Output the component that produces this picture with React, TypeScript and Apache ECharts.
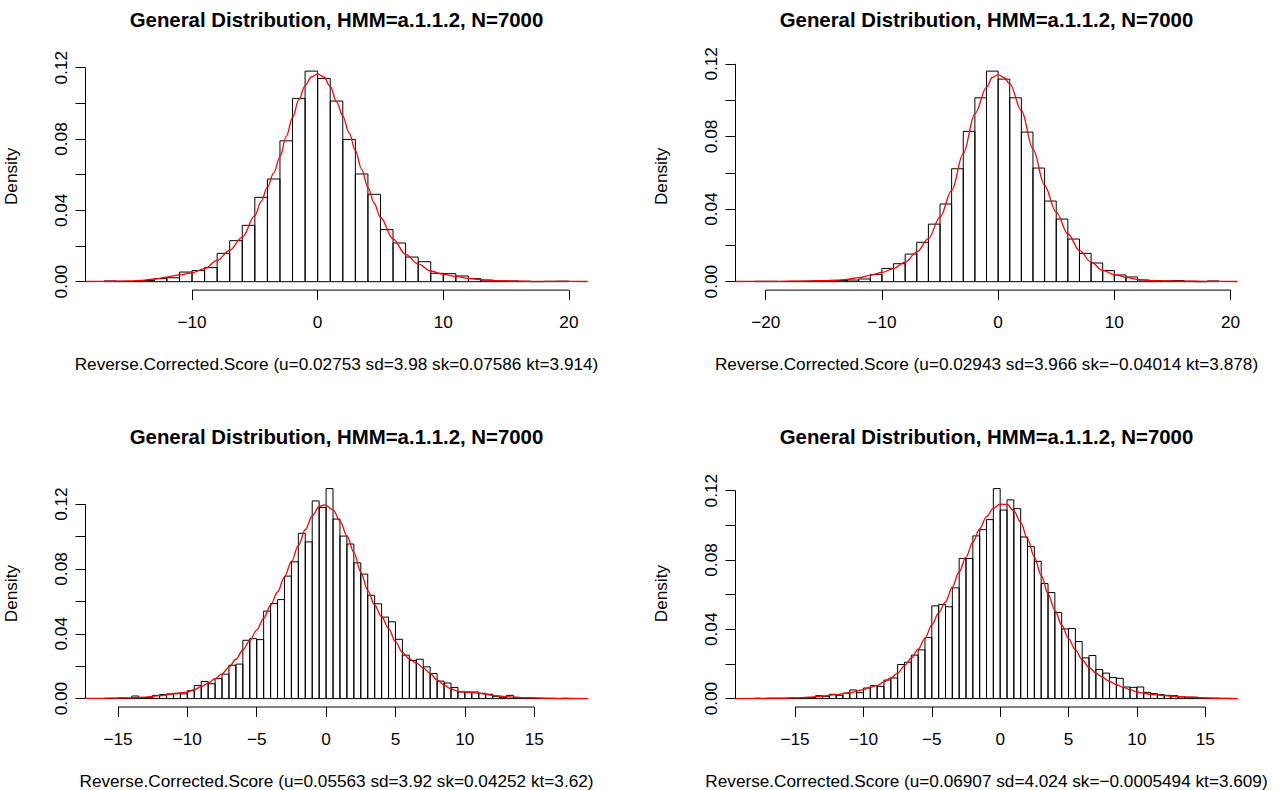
import React, { useEffect, useRef } from "react";
import * as echarts from "echarts";

// ---------- text ----------
const MAIN_TITLE = "General Distribution, HMM=a.1.1.2, N=7000";
const Y_TITLE = "Density";
const xTitles = [
  "Reverse.Corrected.Score (u=0.02753 sd=3.98 sk=0.07586 kt=3.914)",
  "Reverse.Corrected.Score (u=0.02943 sd=3.966 sk=\u22120.04014 kt=3.878)",
  "Reverse.Corrected.Score (u=0.05563 sd=3.92 sk=0.04252 kt=3.62)",
  "Reverse.Corrected.Score (u=0.06907 sd=4.024 sk=\u22120.0005494 kt=3.609)",
];

// ---------- panel 1 (top-left) ----------
const p1BinStart = -17;
const p1BinWidth = 1;
const p1Density = [
  0.0004, 0.0002, 0.0001, 0.0006, 0.0017, 0.0022, 0.0054, 0.0062, 0.0079, 0.0159,
  0.023, 0.0316, 0.0473, 0.0576, 0.079, 0.1028, 0.1181, 0.114, 0.1013, 0.0798,
  0.0604, 0.049, 0.0292, 0.0217, 0.0138, 0.0112, 0.0047, 0.0045, 0.0032, 0.0017,
  0.0009, 0.0004, 0.0004, 0.0002, 0.0, 0.0002, 0.0003,
];
const p1CurveX = [-18.5, -17, -16, -15, -14, -13, -12, -11, -10, -9, -8, -7, -6, -5, -4.5, -4, -3.5, -3, -2.5, -2, -1.5, -1, -0.5, 0, 0.5, 1, 1.5, 2, 2.5, 3, 3.5, 4, 4.5, 5, 6, 7, 8, 9, 10, 11, 12, 13, 14, 15, 16, 17, 18, 19, 20, 21.5];
const p1CurveY = [0.0001, 0.0002, 0.0003, 0.0004, 0.0007, 0.0015, 0.0026, 0.0038, 0.005, 0.0073, 0.012, 0.0176, 0.025, 0.037, 0.045, 0.053, 0.061, 0.07, 0.0815, 0.092, 0.102, 0.11, 0.1148, 0.1166, 0.1148, 0.1095, 0.101, 0.093, 0.0835, 0.0736, 0.063, 0.053, 0.044, 0.036, 0.024, 0.0153, 0.01, 0.006, 0.0041, 0.003, 0.0019, 0.0011, 0.0006, 0.0004, 0.0003, 0.0002, 0.0002, 0.0002, 0.0002, 0.0001];
const p1XTicks = [-10, 0, 10, 20];

// ---------- panel 2 (top-right) ----------
const p2BinStart = -21;
const p2BinWidth = 1;
const p2Density = [
  0.0002, 0.0002, 0.0001, 0.0002, 0.0003, 0.0004, 0.0004, 0.0006, 0.0009, 0.0015,
  0.004, 0.0073, 0.0099, 0.0152, 0.0217, 0.0317, 0.0428, 0.0622, 0.0828, 0.1013,
  0.116, 0.1116, 0.1013, 0.0824, 0.0626, 0.0444, 0.0345, 0.0235, 0.0156, 0.0103,
  0.0061, 0.0037, 0.0026, 0.0009, 0.0006, 0.0004, 0.0006, 0.0002, 0.0, 0.0004,
];
const p2CurveX = [-22.6, -21, -19, -17, -16, -15, -14, -13, -12, -11, -10, -9, -8, -7, -6, -5, -4, -3, -2, -1, -0.5, 0, 0.5, 1, 2, 3, 4, 5, 6, 7, 8, 9, 10, 11, 12, 13, 14, 15, 16, 18, 20.6];
const p2CurveY = [0.0001, 0.0002, 0.0002, 0.0003, 0.0004, 0.0006, 0.0008, 0.0013, 0.0022, 0.0035, 0.0051, 0.0072, 0.0108, 0.0163, 0.0237, 0.0356, 0.0503, 0.0705, 0.0925, 0.107, 0.1125, 0.1141, 0.1125, 0.109, 0.0943, 0.0732, 0.053, 0.0383, 0.0264, 0.0172, 0.0108, 0.0062, 0.0039, 0.0024, 0.0013, 0.0007, 0.0004, 0.0004, 0.0003, 0.0002, 0.0001];
const p2XTicks = [-20, -10, 0, 10, 20];

// ---------- panel 3 (bottom-left) ----------
const p3BinStart = -16;
const p3BinWidth = 0.5;
const p3Density = [
  0.0002, 0.0002, 0.0004, 0.0002, 0.0016, 0.0006, 0.0008, 0.002, 0.0025, 0.0029,
  0.0033, 0.0029, 0.0049, 0.008, 0.0106, 0.0092, 0.0123, 0.0151, 0.0206, 0.0213,
  0.036, 0.037, 0.0364, 0.054, 0.0587, 0.0611, 0.0756, 0.0844, 0.102, 0.0967,
  0.122, 0.1179, 0.1296, 0.1108, 0.1003, 0.0954, 0.0838, 0.0768, 0.0638, 0.0585,
  0.0503, 0.0474, 0.0366, 0.0268, 0.0235, 0.0243, 0.0196, 0.0155, 0.0108, 0.0096,
  0.0069, 0.0041, 0.0041, 0.0041, 0.0033, 0.0027, 0.0014, 0.0008, 0.002, 0.0008,
  0.0004, 0.0004, 0.0002, 0.0002, 0.0002, 0.0, 0.0002,
];
const p3CurveX = [-17.4, -16, -15, -14, -13, -12, -11, -10, -9.5, -9, -8.5, -8, -7.5, -7, -6.5, -6, -5.5, -5, -4.5, -4, -3.5, -3, -2.5, -2, -1.5, -1, -0.5, -0.1, 0.5, 1, 1.5, 2, 2.5, 3, 3.5, 4, 4.5, 5, 5.5, 6, 6.5, 7, 7.5, 8, 8.5, 9, 9.5, 10, 10.5, 11, 11.5, 12, 12.5, 13, 13.5, 14, 15, 16, 17, 18.9];
const p3CurveY = [0.0001, 0.0002, 0.0003, 0.0005, 0.0009, 0.0018, 0.0029, 0.004, 0.0055, 0.0074, 0.0096, 0.0123, 0.0153, 0.0194, 0.0243, 0.03, 0.0358, 0.0423, 0.0495, 0.0576, 0.0658, 0.075, 0.0846, 0.0944, 0.1042, 0.1128, 0.1185, 0.1196, 0.1165, 0.1097, 0.1006, 0.0903, 0.0781, 0.0668, 0.0576, 0.0505, 0.0433, 0.0352, 0.0285, 0.0245, 0.022, 0.019, 0.0155, 0.0115, 0.0084, 0.006, 0.0046, 0.0041, 0.0037, 0.0033, 0.0027, 0.002, 0.0016, 0.0012, 0.0009, 0.0006, 0.0004, 0.0002, 0.0001, 0.0];
const p3XTicks = [-15, -10, -5, 0, 5, 10, 15];

// ---------- panel 4 (bottom-right) ----------
const p4BinStart = -18;
const p4BinWidth = 0.5;
const p4Density = [
  0.0002, 0.0, 0.0002, 0.0002, 0.0002, 0.0004, 0.0002, 0.0006, 0.0006, 0.0017,
  0.0013, 0.0025, 0.0019, 0.0031, 0.005, 0.0034, 0.0061, 0.0075, 0.0071, 0.0107,
  0.0119, 0.0197, 0.021, 0.0251, 0.0281, 0.0352, 0.0535, 0.0543, 0.053, 0.0639,
  0.0809, 0.0809, 0.0939, 0.0975, 0.1033, 0.1212, 0.1088, 0.1147, 0.1096, 0.0933,
  0.0878, 0.0792, 0.0664, 0.0612, 0.0497, 0.0402, 0.0404, 0.0329, 0.0235, 0.0249,
  0.0168, 0.0147, 0.0122, 0.0117, 0.0067, 0.0065, 0.0067, 0.0036, 0.0029, 0.0023,
  0.0019, 0.0017, 0.001, 0.0008, 0.0008, 0.0004, 0.0002, 0.0002,
];
const p4CurveX = [-19.4, -18, -17, -16, -15, -14, -13, -12, -11, -10, -9.5, -9, -8.5, -8, -7.5, -7, -6.5, -6, -5.5, -5, -4.5, -4, -3.5, -3, -2.5, -2, -1.5, -1, -0.5, 0, 0.5, 1, 1.5, 2, 2.5, 3, 3.5, 4, 4.5, 5, 5.5, 6, 6.5, 7, 7.5, 8, 8.5, 9, 9.5, 10, 10.5, 11, 11.5, 12, 12.5, 13, 14, 15, 16, 17.4];
const p4CurveY = [0.0, 0.0001, 0.0002, 0.0002, 0.0004, 0.0008, 0.0015, 0.0023, 0.0034, 0.0052, 0.0065, 0.0076, 0.0096, 0.0119, 0.0147, 0.0189, 0.0233, 0.0285, 0.0348, 0.0425, 0.0495, 0.0558, 0.0644, 0.0731, 0.0817, 0.0903, 0.0979, 0.105, 0.1098, 0.1122, 0.1121, 0.1084, 0.1017, 0.0922, 0.0817, 0.0711, 0.0606, 0.0511, 0.0425, 0.0348, 0.0281, 0.0224, 0.018, 0.0147, 0.0122, 0.0099, 0.008, 0.0065, 0.0052, 0.0038, 0.0031, 0.0025, 0.0021, 0.0017, 0.0015, 0.0011, 0.0008, 0.0004, 0.0002, 0.0];
const p4XTicks = [-15, -10, -5, 0, 5, 10, 15];

// ---------- shared y ticks ----------
const yTicks = [0, 0.02, 0.04, 0.06, 0.08, 0.1, 0.12];
const yLabels = [0, 0.04, 0.08, 0.12];

// ---------- layout ----------
const FONT = '"Liberation Sans", Arial, Helvetica, sans-serif';
const PLOT_W = 502;
const PLOT_H = 227.4;
const COL_LEFT = [85.5, 735.5];
const ROW_TOP = [62.7, 480.2];
const TITLE_Y = [19.5, 437];
const AXIS_FS = 17.2;
const TITLE_FS = 20.4;

const panels = [
  { start: p1BinStart, w: p1BinWidth, dens: p1Density, cx: p1CurveX, cy: p1CurveY, ticks: p1XTicks, col: 0, row: 0 },
  { start: p2BinStart, w: p2BinWidth, dens: p2Density, cx: p2CurveX, cy: p2CurveY, ticks: p2XTicks, col: 1, row: 0 },
  { start: p3BinStart, w: p3BinWidth, dens: p3Density, cx: p3CurveX, cy: p3CurveY, ticks: p3XTicks, col: 0, row: 1 },
  { start: p4BinStart, w: p4BinWidth, dens: p4Density, cx: p4CurveX, cy: p4CurveY, ticks: p4XTicks, col: 1, row: 1 },
];

const minus = (v: number) => String(v).replace("-", "\u2212");

function buildOption() {
  const grid: any[] = [];
  const xAxis: any[] = [];
  const yAxis: any[] = [];
  const series: any[] = [];
  const graphic: any[] = [];

  panels.forEach((p, i) => {
    const n = p.dens.length;
    const lo = p.start;
    const hi = p.start + n * p.w;
    const xpad = 0.04 * (hi - lo);
    const xmin = lo - xpad;
    const xmax = hi + xpad;
    const ytop = Math.max(...p.dens);
    const ymin = -0.04 * ytop;
    const ymax = 1.04 * ytop;
    const left = COL_LEFT[p.col];
    const top = ROW_TOP[p.row];

    grid.push({ left, top, width: PLOT_W, height: PLOT_H, containLabel: false });

    xAxis.push({
      gridIndex: i,
      type: "value",
      position: "bottom",
      min: xmin,
      max: xmax,
      axisLine: { show: false, onZero: false },
      splitLine: { show: false },
      axisTick: { show: true, customValues: p.ticks, length: 10, lineStyle: { color: "#000", width: 1 } },
      axisLabel: {
        customValues: p.ticks,
        formatter: (v: number) => minus(v),
        margin: 23,
        fontSize: AXIS_FS,
        color: "#000",
        fontFamily: FONT,
      },
      name: xTitles[i],
      nameLocation: "middle",
      nameGap: 65,
      nameTextStyle: { fontSize: AXIS_FS, color: "#000", fontFamily: FONT },
    });

    yAxis.push({
      gridIndex: i,
      type: "value",
      position: "left",
      min: ymin,
      max: ymax,
      axisLine: { show: false, onZero: false },
      splitLine: { show: false },
      axisTick: { show: true, customValues: yTicks, length: 10, lineStyle: { color: "#000", width: 1 } },
      axisLabel: {
        customValues: yLabels,
        formatter: (v: number) => v.toFixed(2),
        rotate: 90,
        margin: 16,
        fontSize: AXIS_FS,
        color: "#000",
        fontFamily: FONT,
      },
      name: Y_TITLE,
      nameLocation: "middle",
      nameRotate: 90,
      nameGap: 66,
      nameTextStyle: { fontSize: AXIS_FS, color: "#000", fontFamily: FONT },
    });

    // histogram bars
    series.push({
      type: "custom",
      xAxisIndex: i,
      yAxisIndex: i,
      silent: true,
      clip: false,
      data: p.dens.map((d, k) => [p.start + k * p.w, p.start + (k + 1) * p.w, d]),
      encode: { x: [0, 1], y: 2 },
      renderItem: (_params: any, api: any) => {
        const a = api.coord([api.value(0), 0]);
        const b = api.coord([api.value(1), api.value(2)]);
        return {
          type: "rect",
          shape: { x: a[0], y: b[1], width: b[0] - a[0], height: a[1] - b[1] },
          style: { fill: "none", stroke: "#000", lineWidth: 1 },
        };
      },
      z: 2,
    });

    // density curve
    series.push({
      type: "line",
      xAxisIndex: i,
      yAxisIndex: i,
      silent: true,
      data: p.cx.map((x, k) => [x, p.cy[k]]),
      smooth: 0.35,
      smoothMonotone: "x",
      showSymbol: false,
      symbol: "none",
      clip: true,
      lineStyle: { color: "#ff0000", width: 1.3 },
      z: 3,
    });

    // R-style axis lines: from first to last tick
    series.push({
      type: "line",
      xAxisIndex: i,
      yAxisIndex: i,
      silent: true,
      clip: false,
      symbol: "none",
      data: [
        [p.ticks[0], ymin],
        [p.ticks[p.ticks.length - 1], ymin],
      ],
      lineStyle: { color: "#000", width: 1 },
      z: 4,
    });
    series.push({
      type: "line",
      xAxisIndex: i,
      yAxisIndex: i,
      silent: true,
      clip: false,
      symbol: "none",
      data: [
        [xmin, yTicks[0]],
        [xmin, yTicks[yTicks.length - 1]],
      ],
      lineStyle: { color: "#000", width: 1 },
      z: 4,
    });

    graphic.push({
      type: "text",
      x: left + PLOT_W / 2,
      y: TITLE_Y[p.row],
      style: {
        text: MAIN_TITLE,
        fill: "#000",
        font: `bold ${TITLE_FS}px ${FONT}`,
        align: "center",
        verticalAlign: "middle",
        textAlign: "center",
        textVerticalAlign: "middle",
      },
    });
  });

  return {
    animation: false,
    backgroundColor: "#ffffff",
    grid,
    xAxis,
    yAxis,
    series,
    graphic,
  };
}

export default function App() {
  const ref = useRef<HTMLDivElement>(null);
  useEffect(() => {
    if (!ref.current) return;
    const chart = echarts.init(ref.current, undefined, { renderer: "svg" });
    chart.setOption(buildOption() as any);
    return () => chart.dispose();
  }, []);
  return (
    <div
      ref={ref}
      style={{ position: "absolute", left: 0, top: 0, width: 1275, height: 790, background: "#fff" }}
    />
  );
}
